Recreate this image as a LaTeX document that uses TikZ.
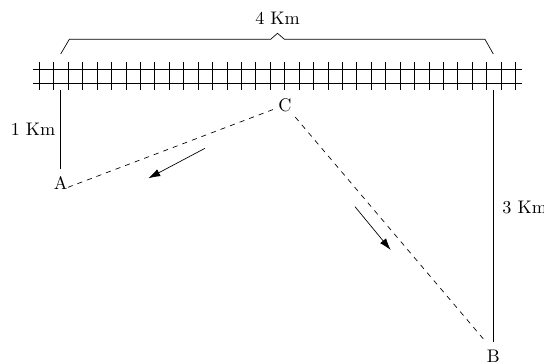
\documentclass[tikz,border=0pt]{standalone}
\usetikzlibrary{arrows.meta}
\begin{document}
\begin{tikzpicture}[x=0.588pt,y=-0.588pt,
  lbl/.style={inner sep=3pt, font=\fontsize{10.7pt}{13pt}\selectfont},
  rail/.style={line width=0.5pt},
  route/.style={dashed},
  mv/.style={-{Latex[length=7pt,width=4.5pt]}}]
\useasboundingbox (0,0) rectangle (544,363);
% track
\draw[rail] (32.7,69) -- (521.7,69);
\draw[rail] (32.7,83) -- (521.7,83);
\foreach \k in {0,...,33} \draw (39.3+14.43*\k,61.7) -- ++(0,28.3);
% brace
\coordinate (bl) at (60.7,54);
\coordinate (br) at (493.3,54);
\draw (bl) -- (69.3,39.3) -- (270.7,39.3) -- (277.5,33.3) -- (284.5,39.3) -- (485,39.3) -- (br);
\node[lbl] (dist) at (277.5,18) {4 Km};
% points
\node[lbl, anchor=north, inner sep=4.2pt] (A) at (60.7,169.3) {A};
\node[lbl, anchor=north, inner sep=4.2pt] (B) at (493.3,342.3) {B};
\node[lbl] (C) at (285,105) {C};
\coordinate (ra) at (60.7,90);
\coordinate (rb) at (493.3,90);
\draw (ra) -- (A.north) node[midway, left, lbl] {1 Km};
\draw (rb) -- (B.north);
\node[lbl, anchor=west] at (497,207) {3 Km};
% routes
\draw[route] (C) -- ([shift={(-7,4)}]A.east);
\draw[route] (C) -- ([shift={(6,-1)}]B.north west);
\coordinate (a1) at (205,148.3);
\coordinate (a2) at (148.3,178.3);
\coordinate (b1) at (355,206.7);
\coordinate (b2) at (390.7,250);
\draw[mv] (a1) -- (a2);
\draw[mv] (b1) -- (b2);
\end{tikzpicture}
\end{document}
